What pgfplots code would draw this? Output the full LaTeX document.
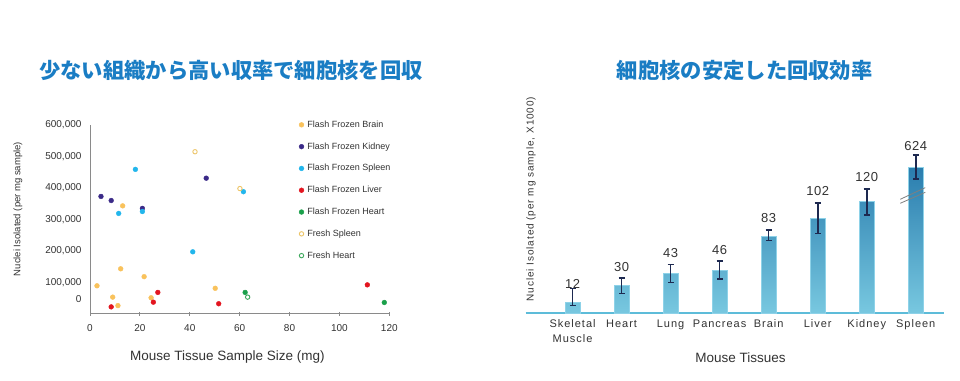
\documentclass[border=0pt]{standalone}
\usepackage{fontspec}
\usepackage{pgfplots}
\pgfplotsset{compat=1.18}
\setmainfont{Liberation Sans}
\newfontfamily\cjk{Noto Sans CJK JP}
\newfontfamily\spaced{Liberation Sans}[LetterSpace=9]
\newfontfamily\spacednum{Liberation Sans}[LetterSpace=4]
\definecolor{titleblue}{HTML}{1A7DC4}
\definecolor{cbrain}{HTML}{F9C25C}
\definecolor{ckidney}{HTML}{3B2A88}
\definecolor{cspleen}{HTML}{22B6EC}
\definecolor{cliver}{HTML}{E3151F}
\definecolor{cheart}{HTML}{1AA04A}
\definecolor{cfspleen}{HTML}{EDC568}
\definecolor{cfheart}{HTML}{3DA85C}
\definecolor{axisgray}{HTML}{8A8A8A}
\definecolor{labgray}{HTML}{333333}
\definecolor{bartop}{HTML}{2A7DAE}
\definecolor{barbot}{HTML}{78C8E0}
\definecolor{baredge}{HTML}{8ED2E8}
\definecolor{baseline}{HTML}{5DBCD9}
\definecolor{errc}{HTML}{1D2950}

\pgfplotstableread{
x y
2.8 89000
12.3 143000
13.1 343000
21.7 118000
9.1 53000
11.2 26000
24.5 51000
50.2 81000
}\brain
\pgfplotstableread{
x y
4.4 373000
8.5 360000
21.0 335000
46.6 431000
}\kidney
\pgfplotstableread{
x y
18.2 459000
11.5 319000
21.0 325000
41.2 197000
61.5 388000
}\spleen
\pgfplotstableread{
x y
8.5 22000
25.4 37000
27.2 68000
51.6 32000
111.2 92000
}\liver
\pgfplotstableread{
x y
62.2 68000
118.0 36000
}\heart
\pgfplotstableread{
x y
42.1 515000
60.1 398000
}\fspleen
\pgfplotstableread{
x y
63.2 53000
}\fheart

\pgfplotstableread{
x y ep em
0 12 14.4 3.6
1 30 8 8.9
2 43 9.7 9.7
3 46 10.4 9.2
4 83 6.5 5
5 102 16.5 16.5
6 120 13.7 14.3
7 157 13.3 12.5
}\bars
\pgfplotstableread{
x y lab
0 31.5 12
1 50.2 30
2 65.2 43
3 68 46
4 102.5 83
5 131.7 102
6 147 120
7 180.3 624
}\barlabels

\begin{document}
\begin{tikzpicture}[x=1pt,y=1pt]
\path[use as bounding box, fill=white] (0,0) rectangle (960,380);
\node[font=\cjk\bfseries\fontsize{21.3}{24}\selectfont, text=titleblue] at (231,309.7) {少ない組織から高い収率で細胞核を回収};
\node[font=\cjk\bfseries\fontsize{21.3}{24}\selectfont, text=titleblue] at (744.7,310) {細胞核の安定した回収効率};

\begin{axis}[
  at={(90pt,66.2pt)}, anchor=south west, scale only axis,
  width=299.3pt, height=188.8pt,
  xmin=0, xmax=120, ymin=0, ymax=600000,
  axis x line*=bottom, axis y line*=left,
  axis line style={color=axisgray, line width=0.9pt},
  xtick={0,20,...,120},
  ytick={46000,100000,200000,300000,400000,500000,600000},
  yticklabels={0,{100,000},{200,000},{300,000},{400,000},{500,000},{600,000}},
  scaled y ticks=false,
  tick align=center, major tick length=4pt,
  tick style={color=axisgray, line width=0.8pt},
  ytick style={draw=none},
  /pgf/number format/assume math mode=true,
  ticklabel style={font=\fontsize{10}{12}\selectfont, text=labgray},
  xticklabel style={yshift=-5pt},
  yticklabel style={xshift=-3pt},
  xlabel={Mouse Tissue Sample Size (mg)},
  xlabel style={at={(axis description cs:0.459,0)}, anchor=center, yshift=-43pt,
    font=\fontsize{13.5}{16}\selectfont, text=labgray},
  ylabel={Nuclei Isolated (per mg sample)},
  ylabel style={at={(axis description cs:-0.2406,0.555)}, anchor=center,
    font=\fontsize{9.5}{11}\selectfont, text=labgray},
  legend style={at={(axis description cs:0.698,1.031)}, anchor=north west,
    draw=none, fill=none, inner sep=0pt, row sep=10.8pt,
    font=\fontsize{9}{11}\selectfont, text=labgray,
    nodes={inner sep=1pt, text height=7pt, text depth=2pt},
    /tikz/every odd column/.append style={column sep=2.5pt}},
  legend cell align=left,
  legend image code/.code={\draw[#1, mark repeat=1, mark phase=1] plot coordinates {(0pt,0pt)};},
  clip=false,
]
\addplot[only marks, mark=*, mark size=2.4pt, color=cbrain] table {\brain};
\addlegendentry{Flash Frozen Brain}
\addplot[only marks, mark=*, mark size=2.4pt, color=ckidney] table {\kidney};
\addlegendentry{Flash Frozen Kidney}
\addplot[only marks, mark=*, mark size=2.4pt, color=cspleen] table {\spleen};
\addlegendentry{Flash Frozen Spleen}
\addplot[only marks, mark=*, mark size=2.4pt, color=cliver] table {\liver};
\addlegendentry{Flash Frozen Liver}
\addplot[only marks, mark=*, mark size=2.4pt, color=cheart] table {\heart};
\addlegendentry{Flash Frozen Heart}
\addplot[only marks, mark=o, mark size=2.2pt, color=cfspleen, mark options={line width=0.9pt}] table {\fspleen};
\addlegendentry{Fresh Spleen}
\addplot[only marks, mark=o, mark size=2.2pt, color=cfheart, mark options={line width=0.9pt}] table {\fheart};
\addlegendentry{Fresh Heart}
\end{axis}

\begin{axis}[
  at={(525.7pt,66.7pt)}, anchor=south west, scale only axis,
  width=418.3pt, height=186pt,
  xmin=-0.955, xmax=7.576, ymin=0, ymax=200,
  axis x line*=bottom, axis y line=none,
  axis line style={color=baseline, line width=2pt},
  xtick={0,...,7},
  xticklabels={{Skeletal\\Muscle},Heart,Lung,Pancreas,Brain,Liver,Kidney,Spleen},
  xtick style={draw=none},
  xticklabel style={font=\spaced\fontsize{11}{15}\selectfont, text=labgray, align=center, yshift=-3pt},
  xlabel={Mouse Tissues},
  xlabel style={at={(axis description cs:0.5135,0)}, anchor=center, yshift=-44.4pt,
    font=\fontsize{13.5}{16}\selectfont, text=labgray},
  clip=false,
]
\addplot[ybar, bar width=14.5pt, draw=baredge, line width=0.5pt,
  top color=bartop, bottom color=barbot,
  error bars/.cd, y dir=both, y explicit,
  error bar style={line width=1.6pt, color=errc},
  error mark options={rotate=90, mark size=3pt, line width=1.4pt, color=errc}]
  table[x=x, y=y, y error plus=ep, y error minus=em] {\bars};
\addplot[draw=none, mark=none, nodes near coords, point meta=explicit symbolic,
  nodes near coords style={anchor=center, font=\spacednum\fontsize{13}{15}\selectfont, text=labgray}]
  table[x=x, y=y, meta=lab] {\barlabels};
\draw[color=gray, line width=0.8pt] (axis cs:6.684,122.6) -- (axis cs:7.194,135.1);
\draw[color=gray, line width=0.8pt] (axis cs:6.684,118.3) -- (axis cs:7.194,130.1);
\node[rotate=90, anchor=center, font=\spaced\fontsize{10}{12}\selectfont, text=labgray]
  at (axis cs:-0.847,122.9) {Nuclei Isolated (per mg sample, X1000)};
\end{axis}
\end{tikzpicture}
\end{document}
